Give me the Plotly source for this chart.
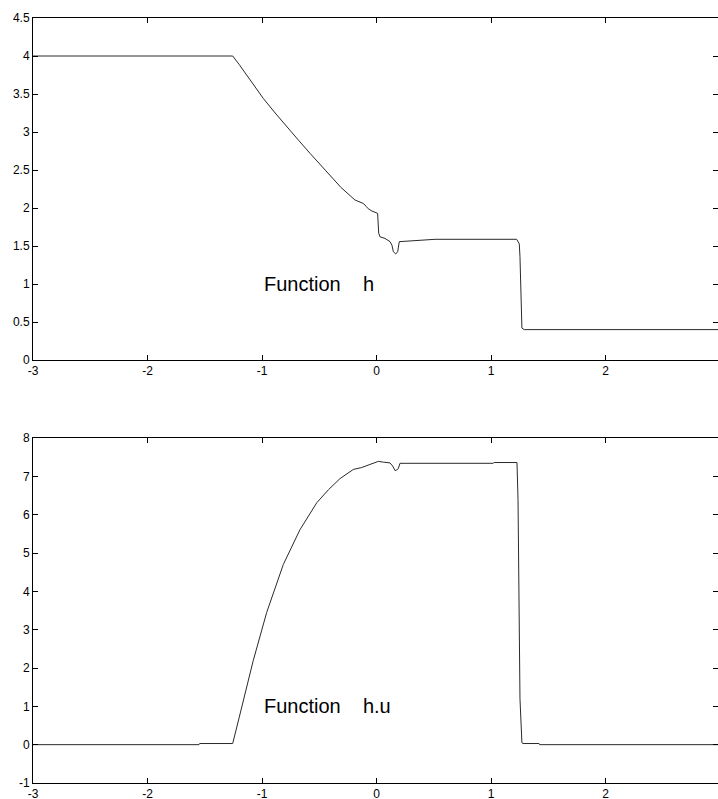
import plotly.graph_objects as go

# Depth h(x) of the dam-break solution
x_h = [-3.0, -1.256, -1.2, -1.1, -0.988, -0.885, -0.785, -0.68, -0.581, -0.435, -0.31,
       -0.188, -0.165, -0.144, -0.115, -0.09, -0.072, -0.04, -0.01, 0.010, 0.019,
       0.031, 0.074, 0.118, 0.135, 0.147, 0.168, 0.185, 0.199, 0.336, 0.511,
       1.224, 1.239, 1.247, 1.253, 1.262, 1.27, 1.29, 2.983]
h = [4.0, 4.0, 3.89, 3.68, 3.44, 3.25, 3.07, 2.89, 2.72, 2.48, 2.27,
     2.105, 2.09, 2.07, 2.06, 2.02, 1.99, 1.96, 1.94, 1.93, 1.67,
     1.62, 1.60, 1.557, 1.51, 1.425, 1.395, 1.425, 1.557, 1.57, 1.588,
     1.588, 1.56, 1.53, 1.36, 0.83, 0.42, 0.40, 0.40]

# Discharge h.u(x)
x_hu = [-3.0, -1.55, -1.545, -1.256, -1.2, -1.163, -1.076, -0.959, -0.814, -0.668,
        -0.522, -0.42, -0.319, -0.202, -0.129, -0.057, 0.016, 0.06, 0.118, 0.141,
        0.162, 0.178, 0.19, 0.205, 0.293, 1.02, 1.025, 1.227, 1.236, 1.253,
        1.27, 1.28, 1.42, 1.425, 2.983]
hu = [0.0, 0.0, 0.03, 0.03, 0.7, 1.15, 2.2, 3.45, 4.7, 5.61,
      6.31, 6.65, 6.94, 7.18, 7.23, 7.31, 7.39, 7.37, 7.35, 7.27,
      7.15, 7.17, 7.2, 7.34, 7.34, 7.34, 7.36, 7.36, 6.4, 1.2,
      0.05, 0.03, 0.03, 0.0, 0.0]

x_ticks = [-3, -2, -1, 0, 1, 2]
h_ticks = [0, 0.5, 1, 1.5, 2, 2.5, 3, 3.5, 4, 4.5]
hu_ticks = [-1, 0, 1, 2, 3, 4, 5, 6, 7, 8]

W, H = 718, 799
LINE = "#2a2a2a"
FONT = dict(family="Liberation Sans, Arial, sans-serif", size=12, color="#000")

fig = go.Figure()
fig.add_trace(go.Scatter(x=x_h, y=h, mode="lines", xaxis="x", yaxis="y",
                         line=dict(color=LINE, width=1), showlegend=False))
fig.add_trace(go.Scatter(x=x_hu, y=hu, mode="lines", xaxis="x2", yaxis="y2",
                         line=dict(color=LINE, width=1), showlegend=False))

x_range = [-3, -3 + (W - 33) / 114.5]


def xax(anchor):
    return dict(range=x_range, domain=[0, 1], anchor=anchor, tickvals=x_ticks,
                ticktext=[str(v) for v in x_ticks], ticks="inside", ticklen=5,
                tickcolor="#000", showline=True, linecolor="#000", linewidth=1,
                mirror="ticks", showgrid=False, zeroline=False, tickfont=FONT,
                automargin=False)


def yax(anchor, rng, ticks, dom):
    return dict(range=rng, domain=dom, anchor=anchor, tickvals=ticks,
                ticktext=[f"{v:g}" for v in ticks], ticks="inside", ticklen=5,
                tickcolor="#000", showline=True, linecolor="#000", linewidth=1,
                mirror="ticks", showgrid=False, zeroline=False, tickfont=FONT,
                automargin=False)


def label(txt, xref, yref):
    return dict(text=txt, x=-1, y=1, xref=xref, yref=yref, xanchor="left",
                yanchor="middle", showarrow=False,
                font=dict(family="Liberation Sans, Arial, sans-serif", size=20,
                          color="#000"))


nb = "\u00a0" * 4
fig.update_layout(
    width=W, height=H,
    margin=dict(l=33, r=0, t=0, b=0),
    paper_bgcolor="white", plot_bgcolor="white",
    xaxis=xax("y"),
    yaxis=yax("x", [0, 4.5], h_ticks, [1 - 360 / H, 1 - 18 / H]),
    xaxis2=xax("y2"),
    yaxis2=yax("x2", [-1, 8], hu_ticks, [1 - 783 / H, 1 - 438 / H]),
    annotations=[label("Function" + nb + "h", "x", "y"),
                 label("Function" + nb + "h.u", "x2", "y2")],
)

fig.write_html("out.html")
